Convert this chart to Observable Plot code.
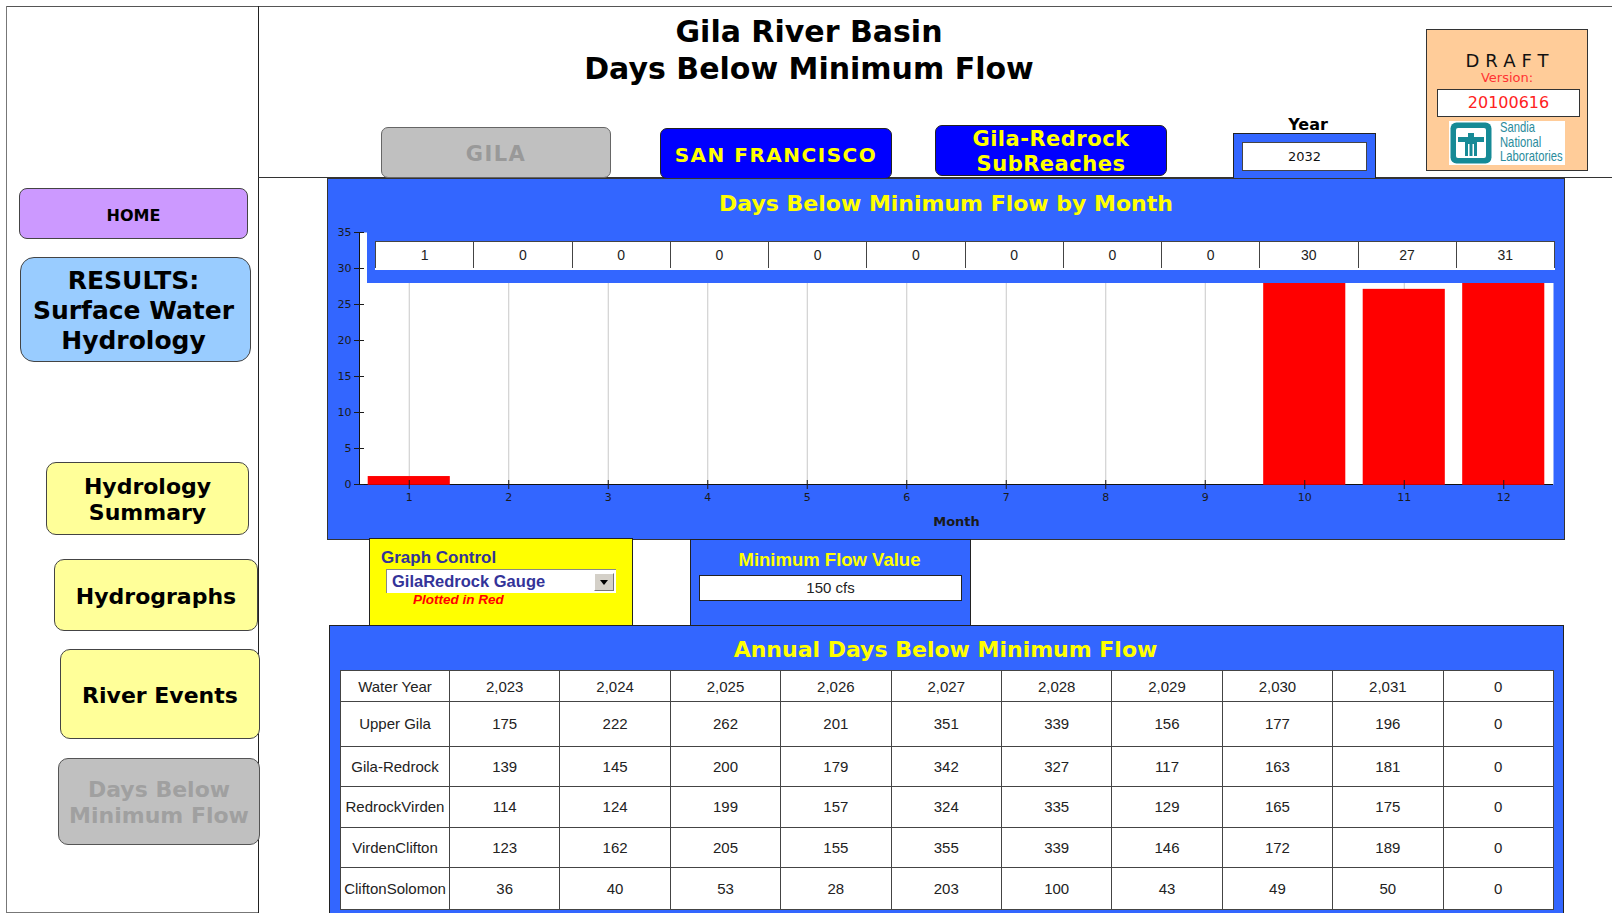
<!DOCTYPE html>
<html><head><meta charset="utf-8">
<script src="https://cdn.jsdelivr.net/npm/d3@7"></script>
<script src="https://cdn.jsdelivr.net/npm/@observablehq/plot@0.6"></script>
<style>
body{margin:0;background:#fff;}
#page{position:relative;width:1612px;height:913px;overflow:hidden;font-family:"DejaVu Sans",sans-serif;color:#000;}
.abs{position:absolute;box-sizing:border-box;}
.btn{position:absolute;box-sizing:border-box;display:flex;align-items:center;justify-content:center;text-align:center;font-weight:bold;border:1.5px solid #444;padding-top:3px;}
.ln{position:absolute;}
table.grid{border-collapse:collapse;table-layout:fixed;font-family:"Liberation Sans",Arial,sans-serif;font-size:15px;color:#222;}
table.grid td{border:1px solid #444;background:#fff;text-align:center;padding:0;white-space:nowrap;}
#chart svg{display:block;}
#chart svg g[aria-label="x-axis label"] text{font-weight:bold;font-size:13px;}
</style></head>
<body><div id="page">
<!-- frame lines -->
<div class="ln" style="left:6px;top:6px;width:1606px;height:1px;background:#555"></div>
<div class="ln" style="left:6px;top:6px;width:1px;height:907px;background:#777"></div>
<div class="ln" style="left:6px;top:912px;width:252px;height:1px;background:#777"></div>
<div class="ln" style="left:258px;top:6px;width:1px;height:907px;background:#222"></div>
<div class="ln" style="left:258px;top:177px;width:1354px;height:1px;background:#333"></div>

<!-- left nav -->
<div class="btn" style="left:19px;top:188px;width:229px;height:51px;background:#cc99ff;border-radius:8px;font-size:16px;">HOME</div>
<div class="btn" style="left:20px;top:257px;width:231px;height:105px;background:#99ccff;border-radius:14px;font-size:25px;line-height:30px;padding-right:4px;">RESULTS:<br>Surface Water<br>Hydrology</div>
<div class="btn" style="left:46px;top:462px;width:203px;height:73px;background:#ffff99;border-radius:10px;font-size:22px;line-height:26px;">Hydrology<br>Summary</div>
<div class="btn" style="left:54px;top:559px;width:204px;height:72px;background:#ffff99;border-radius:10px;font-size:22px;">Hydrographs</div>
<div class="btn" style="left:60px;top:649px;width:200px;height:90px;background:#ffff99;border-radius:10px;font-size:22px;">River Events</div>
<div class="btn" style="left:58px;top:758px;width:202px;height:87px;background:#c0c0c0;border-radius:10px;font-size:22px;line-height:26px;color:#a0a0a0;border-color:#555;">Days Below<br>Minimum Flow</div>

<!-- title -->
<div class="abs" style="left:459px;top:13px;width:700px;text-align:center;font-size:30px;font-weight:bold;line-height:37px;">Gila River Basin<br>Days Below Minimum Flow</div>

<!-- top buttons -->
<div class="btn" style="left:381px;top:127px;width:230px;height:51px;background:#c0c0c0;border-color:#666;border-radius:7px;color:#999;font-size:21px;letter-spacing:1.5px;">GILA</div>
<div class="btn" style="left:660px;top:128px;width:232px;height:51px;background:#0000ff;border-color:#222;border-radius:7px;color:#ffff00;font-size:20px;letter-spacing:1.5px;">SAN FRANCISCO</div>
<div class="btn" style="left:935px;top:125px;width:232px;height:51px;background:#0000ff;border-color:#222;border-radius:7px;color:#ffff00;font-size:21px;line-height:25px;letter-spacing:0.5px;">Gila-Redrock<br>SubReaches</div>
<div class="abs" style="left:1258px;top:115px;width:100px;text-align:center;font-size:16px;font-weight:bold;line-height:20px;">Year</div>
<div class="abs" style="left:1233px;top:133px;width:143px;height:48px;background:#3366ff;border:1px solid #222;"></div>
<div class="abs" id="yearBox" style="left:1242px;top:142px;width:125px;height:29px;background:#fff;border:1px solid #444;text-align:center;line-height:27px;font-family:'DejaVu Sans';font-size:13px;color:#111;"></div>

<!-- draft box -->
<div class="abs" style="left:1426px;top:29px;width:162px;height:142px;background:#ffcc99;border:1px solid #333;"></div>
<div class="abs" style="left:1426px;top:50px;width:168px;text-align:center;font-size:18px;letter-spacing:6px;line-height:22px;color:#111;">DRAFT</div>
<div class="abs" style="left:1426px;top:70px;width:162px;text-align:center;font-size:13px;line-height:16px;color:#ff3333;">Version:</div>
<div class="abs" id="versionBox" style="left:1437px;top:89px;width:143px;height:28px;background:#fff;border:1px solid #333;text-align:center;line-height:26px;font-size:16px;color:#ff2222;"></div>
<div class="abs" style="left:1449px;top:121px;width:116px;height:44px;background:#fff;"></div>
<svg class="abs" style="left:1450px;top:122px;" width="42" height="42" viewBox="0 0 42 42">
 <rect x="0.5" y="0.5" width="41" height="41" rx="6" fill="#168a96"/>
 <rect x="6" y="6" width="30" height="30" rx="2" fill="#fff"/>
 <path d="M8 15 L18 15 L18 11 L24 11 L24 15 L34 15 L34 20 L27 20 L27 34 L24 34 L24 22 L22.5 22 L22.5 34 L19.5 34 L19.5 22 L18 22 L18 34 L15 34 L15 20 L8 20 Z" fill="#168a96"/>
</svg>
<div class="abs" style="left:1500px;top:120px;font-family:'Liberation Sans',Arial;font-size:15px;line-height:14.5px;color:#2a8c9c;transform:scaleX(0.75);transform-origin:left top;">Sandia<br>National<br>Laboratories</div>

<!-- chart panel -->
<div class="abs" id="chart" style="left:328px;top:179px;width:1236px;height:360px;outline:1px solid #333;"></div>
<div class="abs" style="left:328px;top:192px;width:1236px;text-align:center;font-size:22px;font-weight:bold;color:#ffff00;line-height:24px;">Days Below Minimum Flow by Month</div>
<div class="abs" style="left:367px;top:231px;width:1196px;height:52px;background:#3366ff;">
  <table class="grid" id="monthTable" style="position:absolute;left:8px;top:10px;width:1180px;height:29px;border-bottom:2px solid #fff;"></table>
</div>

<!-- graph control -->
<div class="abs" style="left:369px;top:538px;width:264px;height:88px;background:#ffff00;border:1.5px solid #222;"></div>
<div class="abs" style="left:381px;top:548px;font-family:'Liberation Sans',Arial;font-weight:bold;font-size:17px;line-height:20px;color:#333399;">Graph Control</div>
<div class="abs" id="gauge" style="left:386px;top:569px;width:230px;height:24px;background:#fff;border-top:1px solid #888;border-left:1px solid #888;font-family:'Liberation Sans',Arial;font-weight:bold;font-size:16.5px;line-height:23px;color:#333399;padding-left:5px;"></div>
<div class="abs" style="left:594px;top:573px;width:20px;height:18px;background:#d4d0c8;border:1px solid #777;border-top-color:#fff;border-left-color:#fff;">
 <svg width="18" height="16" style="position:absolute;left:0;top:0"><path d="M5 6 L13 6 L9 11 Z" fill="#000"/></svg>
</div>
<div class="abs" style="left:413px;top:591px;font-family:'Liberation Sans',Arial;font-weight:bold;font-style:italic;font-size:13.5px;line-height:18px;color:#ff0000;">Plotted in Red</div>

<!-- minimum flow -->
<div class="abs" style="left:690px;top:539px;width:281px;height:87px;background:#3366ff;border:1px solid #222;"></div>
<div class="abs" style="left:690px;top:550px;width:279px;text-align:center;font-family:'Liberation Sans',Arial;font-weight:bold;font-size:18.5px;line-height:20px;color:#ffff00;">Minimum Flow Value</div>
<div class="abs" id="minFlow" style="left:699px;top:575px;width:263px;height:26px;background:#fff;border:1px solid #222;text-align:center;font-family:'Liberation Sans',Arial;font-size:15px;line-height:24px;color:#222;"></div>

<!-- annual table -->
<div class="abs" style="left:329px;top:625px;width:1235px;height:300px;background:#3366ff;border:1px solid #222;"></div>
<div class="abs" style="left:329px;top:638px;width:1233px;text-align:center;font-size:22px;font-weight:bold;color:#ffff00;line-height:24px;">Annual Days Below Minimum Flow</div>
<table class="grid" id="annual" style="position:absolute;left:340px;top:670px;width:1214px;"></table>
</div>

<script>
// ---- data ----
const months = [1, 2, 3, 4, 5, 6, 7, 8, 9, 10, 11, 12];
const daysBelow = [1, 0, 0, 0, 0, 0, 0, 0, 0, 30, 27, 31];
const yTicks = [0, 5, 10, 15, 20, 25, 30, 35];
const selectedYear = "2032";
const minimumFlow = "150 cfs";
const gaugeName = "GilaRedrock Gauge";
const versionId = "20100616";
const waterYears = [2023, 2024, 2025, 2026, 2027, 2028, 2029, 2030, 2031, 0];
const reaches = ["Upper Gila", "Gila-Redrock", "RedrockVirden", "VirdenClifton", "CliftonSolomon"];
const upperGila = [175, 222, 262, 201, 351, 339, 156, 177, 196, 0];
const gilaRedrock = [139, 145, 200, 179, 342, 327, 117, 163, 181, 0];
const redrockVirden = [114, 124, 199, 157, 324, 335, 129, 165, 175, 0];
const virdenClifton = [123, 162, 205, 155, 355, 339, 146, 172, 189, 0];
const cliftonSolomon = [36, 40, 53, 28, 203, 100, 43, 49, 50, 0];

// ---- layout (not data) ----
const rowHeights = [31, 44.5, 40, 41, 40, 42.5];

document.getElementById("yearBox").textContent = selectedYear;
document.getElementById("minFlow").textContent = minimumFlow;
document.getElementById("gauge").textContent = gaugeName;
document.getElementById("versionBox").textContent = versionId;

// month value strip
const mt = document.getElementById("monthTable");
const mtr = mt.insertRow();
daysBelow.forEach(v => { const c = mtr.insertCell(); c.textContent = v; c.style.fontSize = "14px"; });

// annual table
const fmt = d3.format(",");
const at = document.getElementById("annual");
const rows = [["Water Year", waterYears.map(fmt)]].concat(
  [upperGila, gilaRedrock, redrockVirden, virdenClifton, cliftonSolomon].map((vals, i) => [reaches[i], vals.map(String)])
);
rows.forEach(([name, vals], r) => {
  const tr = at.insertRow();
  tr.style.height = rowHeights[r] + "px";
  const c0 = tr.insertCell(); c0.textContent = name; c0.style.width = "108px";
  vals.forEach(v => { const c = tr.insertCell(); c.textContent = v; });
});

// ---- chart ----
const data = months.map((m, i) => ({month: m, days: daysBelow[i]}));
const chart = Plot.plot({
  width: 1236,
  height: 360,
  marginLeft: 31,
  marginRight: 11,
  marginTop: 53,
  marginBottom: 55,
  style: {background: "#3366ff", fontFamily: "DejaVu Sans", fontSize: "11px", color: "#1a1a1a", overflow: "visible"},
  x: {type: "band", domain: months, paddingInner: 0.19, paddingOuter: 0.095, round: false},
  y: {domain: [0, 35]},
  marks: [
    Plot.frame({fill: "white", stroke: null}),
    Plot.gridX(months, {stroke: "#c8c8c8", strokeOpacity: 1}),
    Plot.ruleY([0], {stroke: "#111"}),
    Plot.barY(data, {x: "month", y: "days", fill: "#ff0000", stroke: "#ff0000", strokeWidth: 1.5}),
    Plot.frame({anchor: "left", stroke: "#111"}),
    Plot.axisY({ticks: yTicks, tickSize: 10, dx: 5, fill: "none", label: null}),
    Plot.axisY({ticks: yTicks, tickSize: 5, tickPadding: 3, stroke: "none", label: null}),
    Plot.axisX({tickSize: 9, dy: -4, fill: "none", label: null}),
    Plot.axisX({tickSize: 6, tickPadding: 3, stroke: "none", label: "Month", labelAnchor: "center", labelArrow: "none", labelOffset: 41})
  ]
});
document.getElementById("chart").appendChild(chart);
</script>
</body></html>
